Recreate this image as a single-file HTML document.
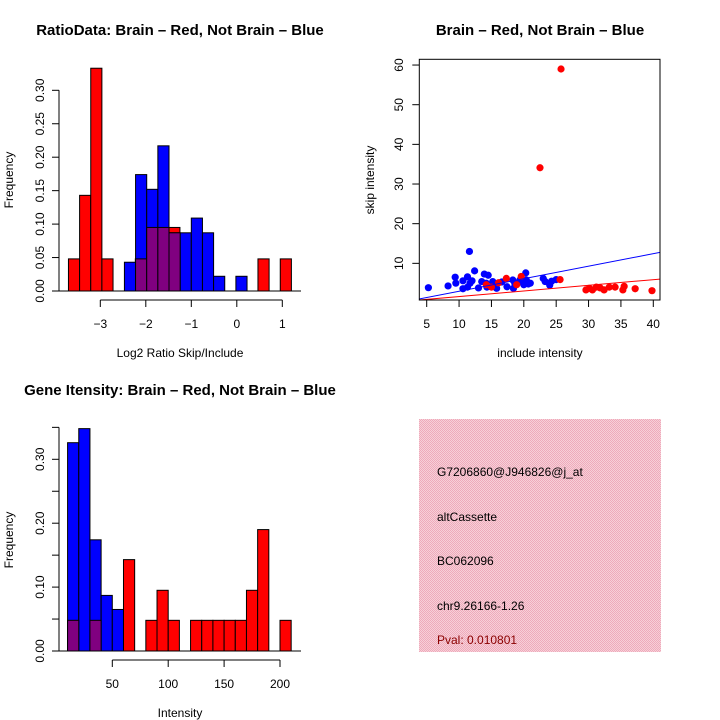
<!DOCTYPE html>
<html><head><meta charset="utf-8"><style>
body{margin:0;background:#fff}
svg{display:block;font-family:"Liberation Sans",Arial,sans-serif}
</style></head><body>
<svg id="s" width="720" height="720" xmlns="http://www.w3.org/2000/svg">
<defs><pattern id="pk" width="2" height="2" patternUnits="userSpaceOnUse"><rect width="2" height="2" fill="#f7d0d8"/><rect width="1" height="1" fill="#eeaabb"/><rect x="1" y="1" width="1" height="1" fill="#eeaabb"/></pattern></defs>
<text x="180" y="35" text-anchor="middle" font-size="15" font-weight="bold">RatioData: Brain – Red, Not Brain – Blue</text>
<text x="540" y="35" text-anchor="middle" font-size="15" font-weight="bold">Brain – Red, Not Brain – Blue</text>
<text x="180" y="395" text-anchor="middle" font-size="15" font-weight="bold">Gene Itensity: Brain – Red, Not Brain – Blue</text>
<text x="180" y="357" text-anchor="middle" font-size="12">Log2 Ratio Skip/Include</text>
<text x="180" y="717" text-anchor="middle" font-size="12">Intensity</text>
<text x="540" y="357" text-anchor="middle" font-size="12">include intensity</text>
<text transform="translate(13,180) rotate(-90)" text-anchor="middle" font-size="12">Frequency</text>
<text transform="translate(13,540) rotate(-90)" text-anchor="middle" font-size="12">Frequency</text>
<text transform="translate(374,180) rotate(-90)" text-anchor="middle" font-size="12">skip intensity</text>
<g>
<rect x="419" y="419" width="242" height="233" fill="url(#pk)"/>
<text x="437" y="476" font-size="12">G7206860@J946826@j_at</text>
<text x="437" y="521" font-size="12">altCassette</text>
<text x="437" y="565" font-size="12">BC062096</text>
<text x="437" y="610" font-size="12">chr9.26166-1.26</text>
<text x="437" y="644" font-size="12" fill="#8b0000">Pval: 0.010801</text>
</g>
</svg>
<script>
// Ratio histogram data
const ratioRedStart = -3.70, ratioBlueStart = -2.47, ratioBinW = 0.245;
const ratioRed = [0.048,0.143,0.333,0.048,0,0,0.048,0.095,0.095,0.095,0,0,0,0,0,0,0,0.048,0,0.048];
const ratioBlue = [0.043,0.174,0.152,0.217,0.087,0.087,0.109,0.087,0.022,0,0.022];
const ratioXTicks = [-3,-2,-1,0,1];
const ratioYTicks = ["0.00","0.05","0.10","0.15","0.20","0.25","0.30"];
// Intensity histogram data
const intStart = 10, intBinW = 10;
const intRed = [0.048,0,0.048,0,0,0.143,0,0.048,0.095,0.048,0,0.048,0.048,0.048,0.048,0.048,0.095,0.19,0,0.048];
const intBlue = [0.326,0.348,0.174,0.087,0.065];
const intXTicks = [50,100,150,200];
const intYTicks = [0,0.05,0.10,0.15,0.20,0.25,0.30,0.35];
const intYLabels = ["0.00","","0.10","","0.20","","0.30",""];
// Scatter data
const blueX = [5.26,8.3,9.4,9.5,10.6,10.6,11.3,11.6,11.7,12.0,11.3,12.4,13.0,13.5,13.9,14.2,14.3,14.5,15.2,15.6,15.8,16.6,17.4,18.3,18.4,18.6,19.4,19.9,20.3,20.4,20.7,21.0,23.0,23.3,24.0,24.3,25.0,20.0];
const blueY = [3.86,4.3,6.5,5.0,5.6,3.6,6.6,13.0,5.0,5.6,4.0,8.1,3.8,5.4,7.3,5.0,4.0,7.0,5.4,4.7,3.7,5.3,4.1,5.8,3.7,5.0,5.8,5.0,7.6,5.8,4.8,5.0,6.2,5.4,4.5,5.5,5.9,4.6];
const redX = [25.75,22.5,25.6,17.3,19.6,18.9,15.0,16.1,29.6,30.1,30.6,31.2,31.8,32.4,33.2,34.1,35.3,35.5,37.2,39.8,14.2];
const redY = [59,34.1,5.9,6.2,6.7,4.6,4.0,5.1,3.3,3.7,3.3,4.0,3.8,3.3,4.0,4.0,3.3,4.2,3.6,3.1,4.6];
const blueFit = [-0.2,0.316];
const redFit = [0.2,0.142];
const scXTicks = [5,10,15,20,25,30,35,40];
const scYTicks = [10,20,30,40,50,60];

const S = document.getElementById('s');
const NS = 'http://www.w3.org/2000/svg';
function mk(tag, at){const e=document.createElementNS(NS,tag);for(const k in at)e.setAttribute(k,at[k]);S.appendChild(e);return e;}
function line(x1,y1,x2,y2,c,w){return mk('line',{x1,y1,x2,y2,stroke:c||'#000','stroke-width':w||1});}

function hist(opt){
  const {xs, ys, red, blue, redStart, blueStart, w, pfx} = opt;
  red.forEach((v,i)=>{ if(v>0){const x0=redStart+i*w;
    const r=mk('rect',{x:xs(x0),y:ys(v),width:xs(x0+w)-xs(x0),height:ys(0)-ys(v),fill:'#ff0000',stroke:'#000'});
    
    }});
  blue.forEach((v,i)=>{ if(v>0){const x0=blueStart+i*w;
    const r=mk('rect',{x:xs(x0),y:ys(v),width:xs(x0+w)-xs(x0),height:ys(0)-ys(v),fill:'#0000ff',stroke:'#000'});
    
    }});
  blue.forEach((v,i)=>{ const x0=blueStart+i*w; const j=Math.round((x0-redStart)/w);
    const rv = red[j]||0; const m=Math.min(v,rv);
    if(m>0){const r=mk('rect',{x:xs(x0),y:ys(m),width:xs(x0+w)-xs(x0),height:ys(0)-ys(m),fill:'#800080',stroke:'#000'});
    
    }});
}

// Ratio histogram
{
  const xs=v=>100.3+(v+3)*45.5, ys=v=>291-v*669;
  hist({xs,ys,red:ratioRed,blue:ratioBlue,redStart:ratioRedStart,blueStart:ratioBlueStart,w:ratioBinW,pfx:'ratio'});
  line(52,291,301,291);
  line(59,ys(0),59,ys(0.30));
  ratioYTicks.forEach(t=>{const y=ys(+t);line(52,y,59,y);
    const tx=mk('text',{transform:`translate(44,${y}) rotate(-90)`,'text-anchor':'middle','font-size':12});tx.textContent=t;
    
    });
  line(xs(-3),300,xs(1),300);
  ratioXTicks.forEach(t=>{const x=xs(t);line(x,300,x,307);
    const tx=mk('text',{x:x,y:328,'text-anchor':'middle','font-size':12});tx.textContent=t<0?'−'+(-t):t;
    
    });
}
// Intensity histogram
{
  const xs=v=>112.3+(v-50)*1.118, ys=v=>651-v*639;
  hist({xs,ys,red:intRed,blue:intBlue,redStart:intStart,blueStart:intStart,w:intBinW,pfx:'intensity'});
  line(52,651,301,651);
  line(59,ys(0),59,ys(0.35));
  intYTicks.forEach((t,i)=>{const y=ys(t);line(52,y,59,y);
    if(intYLabels[i]){const tx=mk('text',{transform:`translate(44,${y}) rotate(-90)`,'text-anchor':'middle','font-size':12});tx.textContent=intYLabels[i];
    
    }});
  line(xs(50),660,xs(200),660);
  intXTicks.forEach(t=>{const x=xs(t);line(x,660,x,667);
    const tx=mk('text',{x:x,y:688,'text-anchor':'middle','font-size':12});tx.textContent=t;
    
    });
}
// Scatter
{
  const L=419.3,R=660,T=59.3,B=300;
  const xs=v=>426.7+(v-5)*6.474, ys=v=>303-v*3.966;
  const cp=mk('clipPath',{id:'scclip'}); const cr=document.createElementNS(NS,'rect');
  cr.setAttribute('x',L);cr.setAttribute('y',T);cr.setAttribute('width',R-L);cr.setAttribute('height',B-T);cp.appendChild(cr);
  blueX.forEach((x,i)=>{const c=mk('circle',{cx:xs(x),cy:ys(blueY[i]),r:3.6,fill:'#0000ff'});
    
    });
  redX.forEach((x,i)=>{const c=mk('circle',{cx:xs(x),cy:ys(redY[i]),r:3.6,fill:'#ff0000'});
    
    });
  const x0=3.8,x1=41.3;
  const bl=mk('line',{x1:xs(x0),y1:ys(blueFit[0]+blueFit[1]*x0),x2:xs(x1),y2:ys(blueFit[0]+blueFit[1]*x1),stroke:'#0000ff','clip-path':'url(#scclip)'});
  
  
  const rl=mk('line',{x1:xs(x0),y1:ys(redFit[0]+redFit[1]*x0),x2:xs(x1),y2:ys(redFit[0]+redFit[1]*x1),stroke:'#ff0000','clip-path':'url(#scclip)'});
  
  
  const box=mk('rect',{x:L,y:T,width:R-L,height:B-T,fill:'none',stroke:'#000'});
  
  
  scXTicks.forEach(t=>{const x=xs(t);line(x,B,x,B+7);
    const tx=mk('text',{x:x,y:328,'text-anchor':'middle','font-size':12});tx.textContent=t;
    
    });
  scYTicks.forEach(t=>{const y=ys(t);line(L-7,y,L,y);
    const tx=mk('text',{transform:`translate(403,${y}) rotate(-90)`,'text-anchor':'middle','font-size':12});tx.textContent=t;
    
    });
}
</script>
</body></html>
